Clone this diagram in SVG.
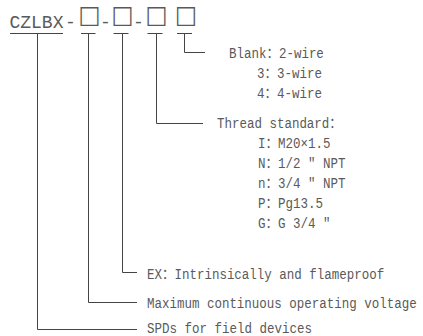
<svg xmlns="http://www.w3.org/2000/svg" width="423" height="336" viewBox="0 0 423 336">
<style>
.t{font-family:"Liberation Mono","Noto Sans CJK SC",monospace;font-size:12.5px;fill:#5a5a5a}
.ttl{font-family:"Liberation Mono",monospace;font-size:18px;fill:#5a5a5a}
.bx{font-family:"DejaVu Sans",sans-serif;font-size:23.5px}
.c line,.c polyline{stroke:#444;stroke-width:1;fill:none}
</style>
<rect width="423" height="336" fill="#fff"/>
<g id="title">
<text class="ttl" transform="translate(0,27.5) scale(1,1.05)"><tspan x="9.5" y="0">CZLBX</tspan><tspan x="65">-</tspan><tspan class="bx" x="78.5" y="-4.5">□</tspan><tspan x="100" y="0">-</tspan><tspan class="bx" x="111.5" y="-4.5">□</tspan><tspan x="133" y="0">-</tspan><tspan class="bx" x="145.5" y="-4.5">□</tspan><tspan class="bx" x="175">□</tspan></text>
</g>
<g class="c" id="connectors">
<line x1="10" y1="33.5" x2="63" y2="33.5"/>
<line x1="81" y1="33.5" x2="95.5" y2="33.5"/>
<line x1="113.5" y1="33.5" x2="128.5" y2="33.5"/>
<line x1="147.5" y1="33.5" x2="162.5" y2="33.5"/>
<line x1="177" y1="33.5" x2="192" y2="33.5"/>
<polyline points="37.5,33.5 37.5,329.5 137,329.5"/>
<polyline points="88.5,33.5 88.5,302.5 137,302.5"/>
<polyline points="122.5,33.5 122.5,272.5 137,272.5"/>
<polyline points="156.5,33.5 156.5,123.5 203,123.5"/>
<polyline points="184.5,33.5 184.5,52.5 205,52.5"/>
</g>
<g id="wires">
<text class="t" transform="translate(229,58) scale(1,1.16)">Blank：2-wire</text>
<text class="t" transform="translate(257,78) scale(1,1.16)">3：3-wire</text>
<text class="t" transform="translate(257,98) scale(1,1.16)">4：4-wire</text>
</g>
<g id="thread">
<text class="t" transform="translate(217,128) scale(1,1.16)">Thread standard：</text>
<text class="t" transform="translate(258,148) scale(1,1.16)">I：M20×1.5</text>
<text class="t" transform="translate(258,168) scale(1,1.16)">N：1/2 " NPT</text>
<text class="t" transform="translate(258,188) scale(1,1.16)">n：3/4 " NPT</text>
<text class="t" transform="translate(258,208) scale(1,1.16)">P：Pg13.5</text>
<text class="t" transform="translate(258,228) scale(1,1.16)">G：G 3/4 "</text>
</g>
<g id="ex">
<text class="t" transform="translate(147,278.5) scale(1,1.16)">EX：Intrinsically and flameproof</text>
</g>
<g id="voltage">
<text class="t" transform="translate(147,307.5) scale(1,1.16)">Maximum continuous operating voltage</text>
</g>
<g id="spd">
<text class="t" transform="translate(147,333) scale(1,1.12)">SPDs for field devices</text>
</g>
</svg>
